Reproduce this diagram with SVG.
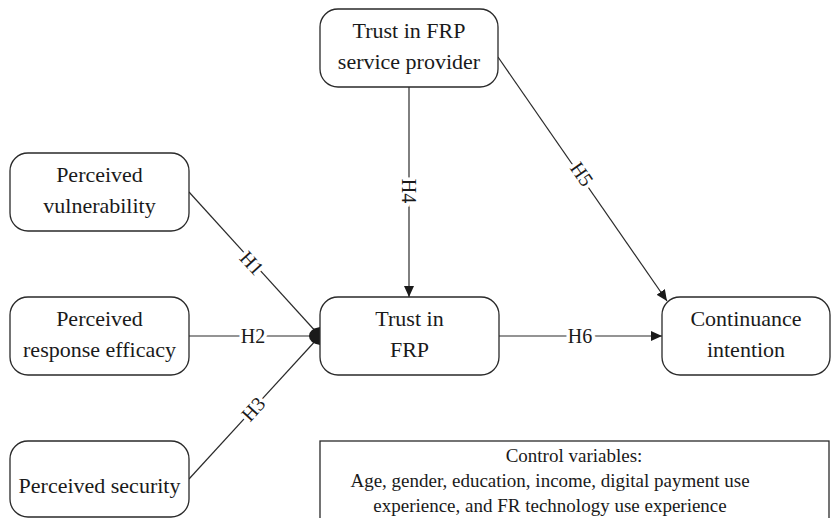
<svg xmlns="http://www.w3.org/2000/svg" width="831" height="518" viewBox="0 0 831 518" font-family="Liberation Serif, Times New Roman, DejaVu Serif, serif">
<style>
.box{fill:#fff;stroke:#2a2a2a;stroke-width:1.3}
.t{font-size:22px;fill:#1a1a1a;text-anchor:middle}
.c{font-size:19px;fill:#1a1a1a;text-anchor:middle}
.lbl{font-size:20px;fill:#1a1a1a;text-anchor:middle;dominant-baseline:central;stroke:#fff;stroke-width:7;paint-order:stroke}
.ln{stroke:#2a2a2a;stroke-width:1.2;fill:none}
</style>
<defs>
<marker id="arr" markerWidth="12" markerHeight="10" refX="11" refY="5" orient="auto" markerUnits="userSpaceOnUse">
<path d="M0,0 L11,5 L0,10 Z" fill="#1a1a1a"/>
</marker>
</defs>
<rect width="831" height="518" fill="#fff"/>
<g id="connectors">
<line class="ln" x1="189" y1="192" x2="318" y2="334"/>
<line class="ln" x1="189" y1="336" x2="318" y2="336"/>
<line class="ln" x1="189" y1="479" x2="318" y2="338"/>
<path d="M320,327 Q309,329 309,336 Q309,343 320,345 Z" fill="#1a1a1a"/>
<line class="ln" x1="409" y1="87" x2="409" y2="297" marker-end="url(#arr)"/>
<line class="ln" x1="498" y1="57" x2="667" y2="301" marker-end="url(#arr)"/>
<line class="ln" x1="499" y1="336" x2="662" y2="336" marker-end="url(#arr)"/>
<text class="lbl" transform="translate(252,263) rotate(47.7)">H1</text>
<text class="lbl" x="253" y="336">H2</text>
<text class="lbl" transform="translate(253,409) rotate(-47.7)">H3</text>
<text class="lbl" transform="translate(409,191) rotate(90)">H4</text>
<text class="lbl" transform="translate(582,174) rotate(55.3)">H5</text>
<text class="lbl" x="580" y="336">H6</text>
</g>
<g id="trust-provider">
<rect class="box" x="320" y="9" width="178" height="78" rx="18"/>
<text class="t" x="409" y="38">Trust in FRP</text>
<text class="t" x="409" y="69">service provider</text>
</g>
<g id="vulnerability">
<rect class="box" x="10" y="153" width="179" height="78" rx="18"/>
<text class="t" x="99.5" y="182">Perceived</text>
<text class="t" x="99.5" y="213">vulnerability</text>
</g>
<g id="response-efficacy">
<rect class="box" x="10" y="297" width="179" height="78" rx="18"/>
<text class="t" x="99.5" y="326">Perceived</text>
<text class="t" x="99.5" y="357">response efficacy</text>
</g>
<g id="security">
<rect class="box" x="10" y="441" width="179" height="76" rx="18"/>
<text class="t" x="99.5" y="493">Perceived security</text>
</g>
<g id="trust-frp">
<rect class="box" x="320" y="297" width="179" height="78" rx="18"/>
<text class="t" x="409.5" y="326">Trust in</text>
<text class="t" x="409.5" y="357">FRP</text>
</g>
<g id="continuance">
<rect class="box" x="662" y="297" width="168" height="78" rx="18"/>
<text class="t" x="746" y="326">Continuance</text>
<text class="t" x="746" y="357">intention</text>
</g>
<g id="controls">
<rect class="box" x="320" y="441" width="509" height="90"/>
<text class="c" x="574" y="462">Control variables:</text>
<text class="c" x="550" y="487">Age, gender, education, income, digital payment use</text>
<text class="c" x="550" y="512">experience, and FR technology use experience</text>
</g>
</svg>
